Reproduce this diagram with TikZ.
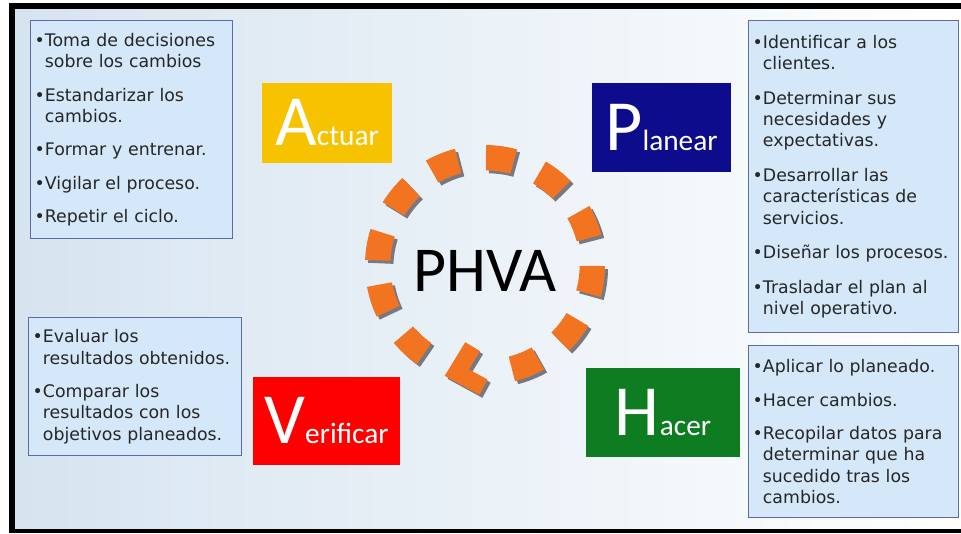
\documentclass[tikz,border=0pt]{standalone}
\usepackage{fontspec}
\setmainfont{DejaVu Sans}
\newfontfamily\calfont{Carlito}
\usetikzlibrary{positioning}

\definecolor{actcol}{RGB}{247,194,0}
\definecolor{placol}{RGB}{12,12,140}
\definecolor{vercol}{RGB}{255,0,0}
\definecolor{hacol}{RGB}{14,124,32}
\definecolor{ringorange}{RGB}{242,116,33}
\definecolor{shadowgray}{RGB}{120,120,130}
\definecolor{bgblue}{RGB}{214,228,240}
\definecolor{lstfill}{RGB}{212,232,250}
\definecolor{lstline}{RGB}{92,108,158}

\newcommand{\capl}[1]{{\calfont\fontsize{54}{54}\selectfont #1}}
\newcommand{\restl}[1]{{\calfont\fontsize{22}{22}\selectfont #1}}
\newcommand{\ind}{\hphantom{\textbullet}}

\begin{document}
\begin{tikzpicture}[x=0.75pt,y=0.75pt]
    \useasboundingbox (0,0) rectangle (961,533);

    % background and frame
    \fill[white] (0,0) rectangle (961,533);
    \shade[left color=bgblue, right color=white] (15,4) rectangle (961,524);
    \fill[black] (9,0) rectangle (15,530);
    \fill[black] (9,524) rectangle (961,530);
    \fill[black] (9,0) rectangle (961,4);

    % dashed ring, shadow first
    \foreach \col/\dx in {shadowgray/3, ringorange/0} {
    \begin{scope}[shift={(485+\dx,268-\dx)}]
    \foreach \a in {170,141,112,82,52,22,-8,-38,-68,-132,-162}
        \fill[\col] (\a-7.5:71pt) arc[start angle=\a-7.5, end angle=\a+7.5, radius=71pt]
            -- (\a+7.5:90pt) arc[start angle=\a+7.5, end angle=\a-7.5, radius=90pt] -- cycle;
    \draw[\col, line width=13pt, shift={(-100:80pt)}, rotate=195] (-12,21) -- (10,0) -- (-12,-21);
    \end{scope}
    }

    \node[font=\calfont\fontsize{48}{48}\selectfont] (PHVA) at (485,262) {PHVA};

    % the four steps
    \begin{scope}[every node/.style={text=white, inner sep=0pt}]
    \node[fill=actcol, minimum width=97.5pt, minimum height=60pt] (A) at (327,410) {\capl{A}\restl{ctuar}};
    \node[fill=placol, minimum width=104.25pt, minimum height=66.75pt] (P) at (661.5,405.5) {\capl{P}\restl{lanear}};
    \node[fill=vercol, minimum width=110.25pt, minimum height=66pt] (V) at (326.5,112) {\capl{V}\restl{erificar}};
    \node[fill=hacol, minimum width=115.5pt, minimum height=66.75pt] (H) at (663,120.5) {\capl{H}\restl{acer}};
    \end{scope}

    % lists beside each step
    \begin{scope}[every node/.style={draw=lstline, line width=1.1pt, fill=lstfill, anchor=north west,
              align=left, inner sep=3pt, text=black!85, font=\fontsize{13}{16}\selectfont}]
    \node[text width=145.5pt, minimum height=163.5pt] (LA) at (30,513)
        {\textbullet Toma de decisiones\\ \ind sobre los cambios\\[9pt]
         \textbullet Estandarizar los\\ \ind cambios.\\[9pt]
         \textbullet Formar y entrenar.\\[9pt]
         \textbullet Vigilar el proceso.\\[9pt]
         \textbullet Repetir el ciclo.};
    \node[text width=151.5pt, minimum height=234pt] (LP) at (748,513)
        {\textbullet Identificar a los\\ \ind clientes.\\[10pt]
         \textbullet Determinar sus\\ \ind necesidades y\\ \ind expectativas.\\[10pt]
         \textbullet Desarrollar las\\ \ind características de\\ \ind servicios.\\[10pt]
         \textbullet Diseñar los procesos.\\[10pt]
         \textbullet Trasladar el plan al\\ \ind nivel operativo.};
    \node[text width=153.75pt, minimum height=103.5pt] (LV) at (28,216)
        {\textbullet Evaluar los\\ \ind resultados obtenidos.\\[9pt]
         \textbullet Comparar los\\ \ind resultados con los\\ \ind objetivos planeados.};
    \node[text width=151.5pt, minimum height=129pt] (LH) at (748,188)
        {\textbullet Aplicar lo planeado.\\[9pt]
         \textbullet Hacer cambios.\\[9pt]
         \textbullet Recopilar datos para\\ \ind determinar que ha\\ \ind sucedido tras los\\ \ind cambios.};
    \end{scope}

\end{tikzpicture}
\end{document}
